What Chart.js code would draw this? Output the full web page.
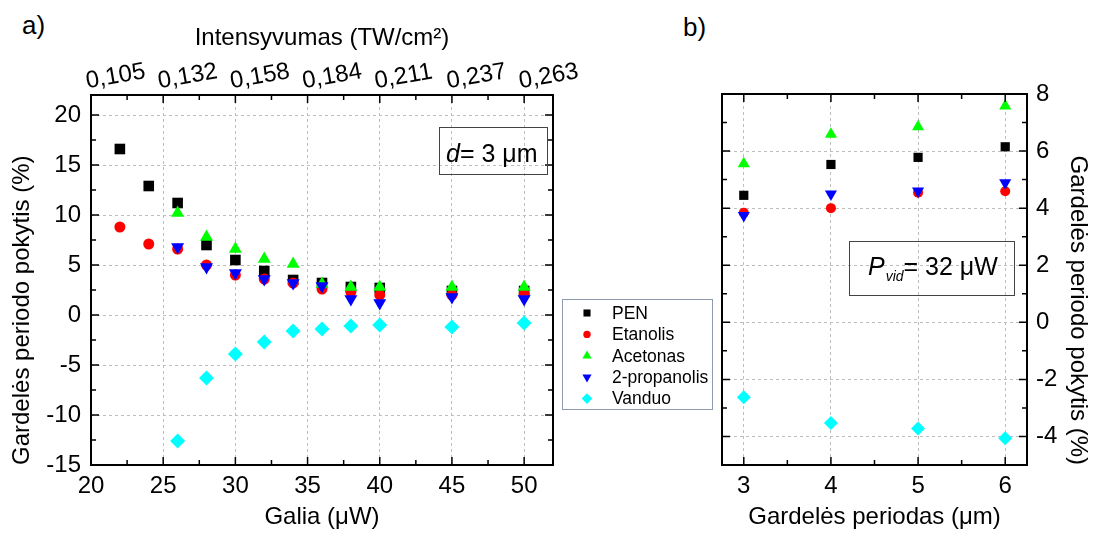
<!DOCTYPE html>
<html>
<head>
<meta charset="utf-8">
<script src="https://cdn.jsdelivr.net/npm/chart.js@4.4.1/dist/chart.umd.min.js"></script>
<style>
  body { margin: 0; background: #fff; width: 1095px; height: 533px; position: relative; overflow: hidden; }
  #wrapA { position: absolute; left: 0; top: 0; width: 715px; height: 533px; }
  #wrapB { position: absolute; left: 715px; top: 0; width: 380px; height: 533px; }
  .panel { position: absolute; font: 26px "Liberation Sans", Arial, sans-serif; color: #000; }
</style>
</head>
<body>
<div class="panel" style="left:22px;top:10px;">a)</div>
<div class="panel" style="left:683px;top:12px;">b)</div>
<div id="wrapA"><canvas id="chartA"></canvas></div>
<div id="wrapB"><canvas id="chartB"></canvas></div>

<script>
// --- duomenys ---
const seriesNames = ['PEN', 'Etanolis', 'Acetonas', '2-propanolis', 'Vanduo'];

// a) grafikas: pokytis priklausomai nuo galios
const galia = [22, 24, 26, 28, 30, 32, 34, 36, 38, 40, 45, 50];
const penA = [16.6, 12.9, 11.2, 7.0, 5.5, 4.4, 3.5, 3.2, 2.8, 2.7, 2.4, 2.4];
const etanolisA = [8.8, 7.1, 6.6, 5.0, 4.0, 3.6, 3.2, 2.6, 2.3, 2.0, 2.0, 2.1];
const acetonasA = [null, null, 10.2, 7.8, 6.6, 5.6, 5.1, 3.1, 2.8, 2.8, 2.8, 2.8];
const propanolisA = [null, null, 6.8, 4.8, 4.2, 3.6, 3.2, 2.9, 1.6, 1.2, 1.8, 1.6];
const vanduoA = [null, null, -12.6, -6.3, -3.9, -2.7, -1.6, -1.4, -1.1, -1.0, -1.2, -0.8];

const galiaTicks = [20, 25, 30, 35, 40, 45, 50];
const intensyvumasLabels = ['0,105', '0,132', '0,158', '0,184', '0,211', '0,237', '0,263'];
const pokytisTicksA = [-15, -10, -5, 0, 5, 10, 15, 20];

// b) grafikas: pokytis priklausomai nuo gardelės periodo
const periodas = [3, 4, 5, 6];
const penB = [4.45, 5.53, 5.78, 6.15];
const etanolisB = [3.84, 4.0, 4.54, 4.59];
const acetonasB = [5.56, 6.59, 6.85, 7.58];
const propanolisB = [3.74, 4.5, 4.6, 4.89];
const vanduoB = [-2.63, -3.53, -3.72, -4.06];

const periodasTicks = [3, 4, 5, 6];
const pokytisTicksB = [-4, -2, 0, 2, 4, 6, 8];

// --- stiliai ---
const seriesStyle = [
  { color: '#000000', shape: 'rect',     rot: 0,   r: 7.5, rB: 6.5, rL: 5 },
  { color: '#ff0000', shape: 'circle',   rot: 0,   r: 5.5, rB: 5,   rL: 3.7 },
  { color: '#00ff00', shape: 'triangle', rot: 0,   r: 7.5, rB: 7,   rL: 5.3 },
  { color: '#0000ff', shape: 'triangle', rot: 180, r: 7.5, rB: 7,   rL: 5.3 },
  { color: '#00ffff', shape: 'rectRot',  rot: 0,   r: 7.5, rB: 7,   rL: 5.3 }
];

const FONT = '"Liberation Sans", Arial, sans-serif';
Chart.defaults.font.family = FONT;
Chart.defaults.color = '#000';
Chart.defaults.animation = false;

function pts(xs, ys) {
  return xs.map((x, i) => ({ x: x, y: ys[i] })).filter(p => p.y !== null);
}

function makeSets(xs, allVals, sizeKey) {
  return allVals.map((vals, i) => {
    const st = seriesStyle[i];
    return {
      label: seriesNames[i],
      data: pts(xs, vals),
      showLine: false,
      pointStyle: st.shape,
      pointRotation: st.rot,
      pointRadius: st[sizeKey],
      pointHoverRadius: st[sizeKey],
      pointBackgroundColor: st.color,
      backgroundColor: st.color,
      pointBorderWidth: 0,
      borderWidth: 0,
      order: seriesNames.length - i
    };
  });
}

function fixedTicks(values) {
  return function(scale) { scale.ticks = values.map(v => ({ value: v })); };
}

const gridOpts = { color: '#bdbdbd', lineWidth: 1, drawTicks: false };
const borderOpts = { display: false, dash: [3, 3] };

// rėmelis su vidinėmis žymėmis
const framePlugin = {
  id: 'frame',
  afterDatasetsDraw(chart, args, o) {
    const { ctx, chartArea: a } = chart;
    const xs = chart.scales.x, ys = chart.scales.y;
    const isMajor = (v, m) => Math.abs(v / m - Math.round(v / m)) < 1e-6;
    ctx.save();
    ctx.strokeStyle = '#000';
    ctx.lineWidth = 1.5;
    ctx.beginPath();
    for (let v = o.xFrom; v <= o.xTo + 1e-9; v += o.xStep) {
      const p = xs.getPixelForValue(v);
      const len = isMajor(v, o.xMajor) ? 8 : 5;
      ctx.moveTo(p, a.bottom); ctx.lineTo(p, a.bottom - len);
      ctx.moveTo(p, a.top); ctx.lineTo(p, a.top + len);
    }
    for (let v = o.yFrom; v <= o.yTo + 1e-9; v += o.yStep) {
      const p = ys.getPixelForValue(v);
      const len = isMajor(v, o.yMajor) ? 8 : 5;
      ctx.moveTo(a.left, p); ctx.lineTo(a.left + len, p);
      ctx.moveTo(a.right, p); ctx.lineTo(a.right - len, p);
    }
    ctx.stroke();
    ctx.lineWidth = 2;
    ctx.strokeRect(a.left, a.top, a.right - a.left, a.bottom - a.top);
    ctx.restore();
  }
};

// užrašas rėmelyje (d = 3 µm, P_vid = 32 µW)
const notePlugin = {
  id: 'note',
  afterDraw(chart, args, o) {
    const ctx = chart.ctx;
    ctx.save();
    ctx.strokeStyle = '#444';
    ctx.lineWidth = 1;
    ctx.strokeRect(o.box[0] + 0.5, o.box[1] + 0.5, o.box[2], o.box[3]);
    ctx.fillStyle = '#000';
    ctx.textBaseline = 'alphabetic';
    let x = o.tx;
    o.parts.forEach(p => {
      ctx.font = (p.italic ? 'italic ' : '') + p.size + 'px ' + FONT;
      ctx.fillText(p.text, x, o.ty + (p.dy || 0));
      x += ctx.measureText(p.text).width + (p.gap || 0);
    });
    ctx.restore();
  }
};

// legenda tarp grafikų
const legendPlugin = {
  id: 'sideLegend',
  afterDraw(chart, args, o) {
    if (!o.show) return;
    const ctx = chart.ctx;
    ctx.save();
    ctx.fillStyle = '#fff';
    ctx.fillRect(o.x, o.y, o.w, o.h);
    ctx.strokeStyle = '#8c9bb0';
    ctx.lineWidth = 1;
    ctx.strokeRect(o.x + 0.5, o.y + 0.5, o.w, o.h);
    chart.data.datasets.forEach((ds, i) => {
      const st = seriesStyle[i];
      const cy = o.y + o.first + i * o.row;
      ctx.fillStyle = st.color;
      Chart.helpers.drawPoint(ctx, { pointStyle: st.shape, rotation: st.rot, radius: st.rL, borderWidth: 0 }, o.x + o.mark, cy);
      ctx.fillStyle = '#000';
      ctx.font = '17.5px ' + FONT;
      ctx.textBaseline = 'middle';
      ctx.fillText(ds.label, o.x + o.text, cy + 1);
    });
    ctx.restore();
  }
};

const titleFont = { size: 24 };
const tickFont = { size: 24 };

// a) grafikas
new Chart(document.getElementById('chartA'), {
  type: 'scatter',
  data: { datasets: makeSets(galia, [penA, etanolisA, acetonasA, propanolisA, vanduoA], 'r') },
  plugins: [framePlugin, notePlugin, legendPlugin],
  options: {
    responsive: true,
    maintainAspectRatio: false,
    devicePixelRatio: 1,
    layout: { padding: { left: 0, right: 162, top: 0, bottom: 0 } },
    scales: {
      x: {
        type: 'linear', position: 'bottom', min: 20, max: 52,
        afterBuildTicks: fixedTicks(galiaTicks),
        afterFit: s => { s.height = 68; },
        ticks: { font: tickFont, padding: 7, autoSkip: false, maxRotation: 0 },
        grid: gridOpts, border: borderOpts,
        title: { display: true, text: 'Galia (\u03bcW)', font: titleFont, padding: 1 }
      },
      x2: {
        type: 'linear', position: 'top', min: 20, max: 52,
        afterBuildTicks: fixedTicks(galiaTicks),
        afterFit: s => { s.height = 95; },
        ticks: {
          font: tickFont, padding: -1, autoSkip: false, minRotation: 10, maxRotation: 10,
          callback: v => intensyvumasLabels[galiaTicks.indexOf(v)]
        },
        grid: { display: false, drawTicks: false }, border: { display: false },
        title: { display: true, text: 'Intensyvumas (TW/cm\u00b2)', font: titleFont, padding: 24 }
      },
      y: {
        type: 'linear', position: 'left', min: -15, max: 22,
        afterBuildTicks: fixedTicks(pokytisTicksA),
        afterFit: s => { s.width = 91; },
        ticks: { font: tickFont, padding: 10 },
        grid: gridOpts, border: borderOpts,
        title: { display: true, text: 'Gardelės periodo pokytis (%)', font: titleFont, padding: 8, align: 'start' }
      }
    },
    plugins: {
      legend: { display: false },
      tooltip: { enabled: false },
      frame: { xFrom: 22.5, xTo: 50, xStep: 2.5, xMajor: 5, yFrom: -12.5, yTo: 20, yStep: 2.5, yMajor: 5 },
      note: {
        box: [439, 127, 108, 47], tx: 446, ty: 162,
        parts: [{ text: 'd', italic: true, size: 25 }, { text: '= 3 \u03bcm', size: 25 }]
      },
      sideLegend: { show: true, x: 562, y: 299, w: 150, h: 110, first: 14, row: 21.4, mark: 25, text: 50 }
    }
  }
});

// b) grafikas
new Chart(document.getElementById('chartB'), {
  type: 'scatter',
  data: { datasets: makeSets(periodas, [penB, etanolisB, acetonasB, propanolisB, vanduoB], 'rB') },
  plugins: [framePlugin, notePlugin],
  options: {
    responsive: true,
    maintainAspectRatio: false,
    devicePixelRatio: 1,
    layout: { padding: { left: 3, right: 0, top: 94, bottom: 0 } },
    scales: {
      x: {
        type: 'linear', position: 'bottom', min: 2.75, max: 6.25,
        afterBuildTicks: fixedTicks(periodasTicks),
        afterFit: s => { s.height = 68; },
        ticks: { font: tickFont, padding: 7, autoSkip: false, maxRotation: 0 },
        grid: gridOpts, border: borderOpts,
        title: { display: true, text: 'Gardelės periodas (\u03bcm)', font: titleFont, padding: 1 }
      },
      y: {
        type: 'linear', position: 'right', min: -5, max: 8,
        afterBuildTicks: fixedTicks(pokytisTicksB),
        afterFit: s => { s.width = 68; },
        ticks: { font: tickFont, padding: 9 },
        grid: gridOpts, border: borderOpts,
        title: { display: true, text: 'Gardelės periodo pokytis (%)', font: titleFont, padding: 3, align: 'start' }
      }
    },
    plugins: {
      legend: { display: false },
      tooltip: { enabled: false },
      frame: { xFrom: 3, xTo: 6, xStep: 0.5, xMajor: 1, yFrom: -4, yTo: 7, yStep: 1, yMajor: 2 },
      note: {
        box: [134, 241, 165, 54], tx: 153, ty: 275,
        parts: [{ text: 'P', italic: true, size: 25, gap: 1 }, { text: 'vid', italic: true, size: 14, dy: 6 }, { text: '= 32 \u03bcW', size: 25 }]
      }
    }
  }
});
</script>
</body>
</html>
